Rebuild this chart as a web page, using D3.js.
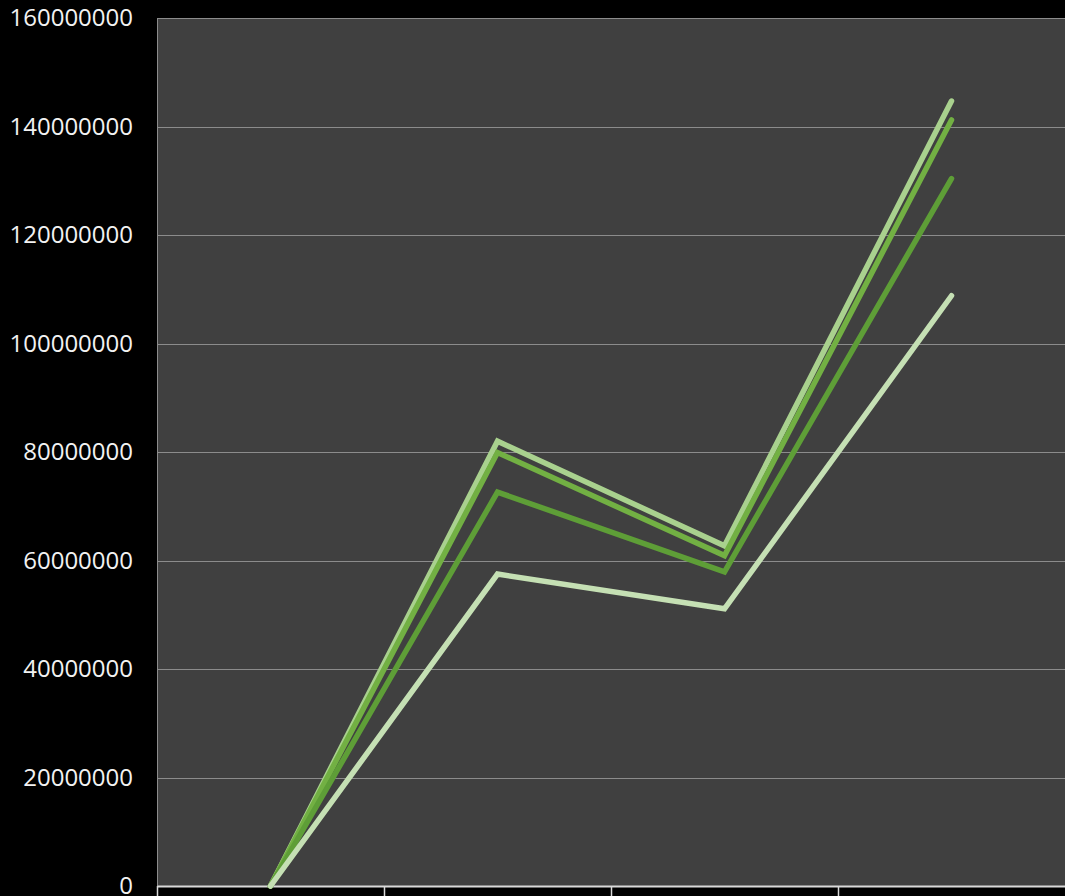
<!DOCTYPE html>
<html>
<head>
<meta charset="utf-8">
<script src="https://cdn.jsdelivr.net/npm/d3@7"></script>
<style>
  html, body { margin: 0; padding: 0; background: #000; }
</style>
</head>
<body>
<div id="chart-area"></div>
<script>
var categories = ['A', 'B', 'C', 'D'];
var series1 = [0, 82000000, 62700000, 144700000];
var series2 = [0, 79900000, 60900000, 141200000];
var series3 = [0, 72600000, 57900000, 130400000];
var series4 = [0, 57500000, 51100000, 108800000];
var yTicks = [0, 20000000, 40000000, 60000000, 80000000, 100000000, 120000000, 140000000, 160000000];

var seriesList = [
    { values: series1, color: '#a9d18e' },
    { values: series2, color: '#72b043' },
    { values: series3, color: '#5e9e37' },
    { values: series4, color: '#c5e0b4' }
];

var margin = { left: 157, right: 0, top: 18, bottom: 10 };
var width = 1065 - margin.left - margin.right,
    height = 896 - margin.top - margin.bottom;

const svg = d3.select('#chart-area')
    .append('svg')
    .attr('width', 1065)
    .attr('height', 896)
    .style('display', 'block');

svg.append('rect')
    .attr('width', 1065).attr('height', 896)
    .attr('fill', '#000');

const g = svg.append('g')
    .attr('transform', 'translate(' + margin.left + ', ' + margin.top + ')');

const xScale = d3.scaleBand()
    .domain(categories)
    .range([0, width]);

const yScale = d3.scaleLinear()
    .domain([0, 160000000])
    .range([height, 0]);

g.append('rect')
    .attr('x', 0).attr('y', 0)
    .attr('width', width).attr('height', height)
    .attr('fill', '#404040');

// gridlines
g.append('g')
    .selectAll('line')
    .data(yTicks.slice(1))
    .enter()
    .append('line')
    .attr('x1', 0).attr('x2', width)
    .attr('y1', function(d) { return Math.round(yScale(d)) + 0.5; })
    .attr('y2', function(d) { return Math.round(yScale(d)) + 0.5; })
    .attr('stroke', '#8c8c8c')
    .attr('stroke-width', 1);

// left border
g.append('line')
    .attr('x1', 0.5).attr('x2', 0.5)
    .attr('y1', 0).attr('y2', height)
    .attr('stroke', '#8c8c8c');

// y labels
const yAxisCall = d3.axisLeft(yScale)
    .tickValues(yTicks)
    .tickSize(0)
    .tickPadding(24)
    .tickFormat(function(d) { return String(d); });

const yAxis = g.append('g').call(yAxisCall);
yAxis.select('.domain').remove();
yAxis.selectAll('text')
    .attr('fill', '#f2f2f2')
    .attr('font-family', '"Open Sans", sans-serif')
    .attr('font-size', '24px');

// x axis
const xAxisCall = d3.axisBottom(xScale)
    .tickSize(0)
    .tickFormat('');
const xAxis = g.append('g')
    .attr('transform', 'translate(0, ' + height + ')')
    .call(xAxisCall);
xAxis.select('.domain')
    .attr('stroke', '#d9d9d9')
    .attr('stroke-width', 2);

xAxis.selectAll('.bound')
    .data(categories)
    .enter()
    .append('line')
    .attr('class', 'bound')
    .attr('x1', function(d) { return Math.round(xScale(d)) + 0.5; })
    .attr('x2', function(d) { return Math.round(xScale(d)) + 0.5; })
    .attr('y1', 0).attr('y2', 10)
    .attr('stroke', '#d9d9d9')
    .attr('stroke-width', 1.5);

// lines
const line = d3.line()
    .x(function(d, i) { return xScale(categories[i]) + xScale.bandwidth() / 2; })
    .y(function(d) { return yScale(d); });

g.selectAll('.series')
    .data(seriesList)
    .enter()
    .append('path')
    .attr('class', 'series')
    .attr('d', function(s) { return line(s.values); })
    .attr('fill', 'none')
    .attr('stroke', function(s) { return s.color; })
    .attr('stroke-width', 5.5)
    .attr('stroke-linecap', 'round')
    .attr('stroke-linejoin', 'miter');
</script>
</body>
</html>
